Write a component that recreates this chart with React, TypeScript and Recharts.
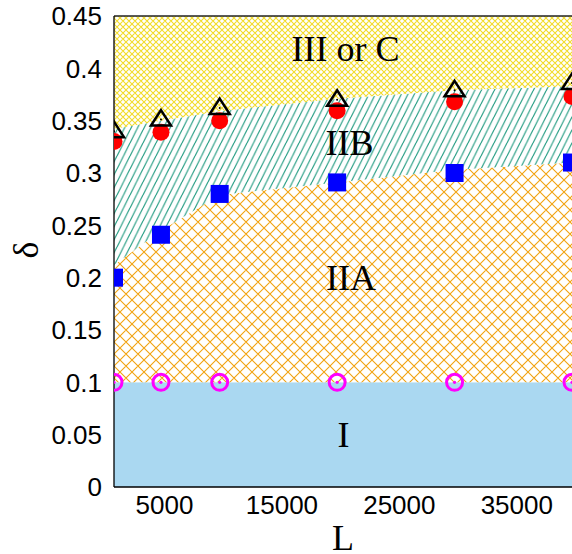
import React from 'react';
import { ComposedChart, Area, Scatter, XAxis, YAxis, ReferenceLine } from 'recharts';

// system sizes (L) where the points were computed
const L_VALUES = [1000, 5000, 10000, 20000, 30000, 40000];

// markers
const DELTA_OPEN = [0.1, 0.1, 0.1, 0.1, 0.1, 0.1];
const DELTA_SQUARE = [0.2, 0.241, 0.28, 0.291, 0.3, 0.31];
const DELTA_CIRCLE = [0.33, 0.339, 0.35, 0.3595, 0.368, 0.373];
const DELTA_TRIANGLE = [0.34, 0.351, 0.362, 0.37, 0.379, 0.386];

// region boundaries
const REGION_I_TOP = [0.1, 0.1, 0.1, 0.1, 0.1, 0.1];
const REGION_IIA_TOP = [0.212, 0.245, 0.279, 0.291, 0.303, 0.31];
const REGION_IIB_TOP = [0.342, 0.35, 0.359, 0.371, 0.379, 0.383];
const DELTA_MAX = 0.45;

const Y_TICKS = [0, 0.05, 0.1, 0.15, 0.2, 0.25, 0.3, 0.35, 0.4, 0.45];
const X_TICKS = [5000, 15000, 25000, 35000];

const regions = L_VALUES.map((L, i) => ({
  L,
  I: REGION_I_TOP[i],
  IIA: REGION_IIA_TOP[i] - REGION_I_TOP[i],
  IIB: REGION_IIB_TOP[i] - REGION_IIA_TOP[i],
  III: DELTA_MAX - REGION_IIB_TOP[i],
}));

const points = (vals: number[]) => L_VALUES.map((L, i) => ({ L, d: vals[i] }));

const sans = '"Liberation Sans", Arial, sans-serif';
const serif = '"Liberation Serif", "Times New Roman", serif';

const OpenCircle = (p: any) => (
  <g>
    <circle cx={p.cx} cy={p.cy} r={8} fill="none" stroke="#ff00ff" strokeWidth={3} />
    <circle cx={p.cx} cy={p.cy} r={1.6} fill="#ff00ff" />
  </g>
);

const Square = (p: any) => <rect x={p.cx - 9} y={p.cy - 9} width={18} height={18} fill="#0000ff" />;

const RedDot = (p: any) => <circle cx={p.cx} cy={p.cy} r={8.5} fill="#ff0000" />;

const Triangle = (p: any) => (
  <g>
    <path
      d={`M${p.cx},${p.cy - 9.5} L${p.cx + 10},${p.cy + 6} L${p.cx - 10},${p.cy + 6} Z`}
      fill="none"
      stroke="#000"
      strokeWidth={2.5}
      strokeLinejoin="miter"
    />
    <circle cx={p.cx} cy={p.cy} r={1} fill="#000" />
  </g>
);

const XTick = (p: any) => (
  <text x={p.x + 3.5} y={p.y} dy="0.71em" textAnchor="middle" fontFamily={sans} fontSize={26} fill="#000">
    {p.payload.value}
  </text>
);

const YTick = (p: any) => (
  <text x={p.x} y={p.y} dy="0.355em" textAnchor="end" fontFamily={sans} fontSize={26} fill="#000">
    {p.payload.value}
  </text>
);

export default function App() {
  return (
    <div style={{ position: 'fixed', left: 0, top: 0, width: 572, height: 554, overflow: 'hidden', background: '#fff' }}>
      <svg width={0} height={0} style={{ position: 'absolute' }}>
        <defs>
          <pattern id="hatchYellow" patternUnits="userSpaceOnUse" width={6} height={6}>
            <rect width={6} height={6} fill="#fff" />
            <path d="M-3,3 L3,9 M0,0 L6,6 M3,-3 L9,3 M-3,3 L3,-3 M0,6 L6,0 M3,9 L9,3" stroke="#f2dc2a" strokeWidth={1.1} />
          </pattern>
          <pattern id="hatchOrange" patternUnits="userSpaceOnUse" width={12} height={12}>
            <rect width={12} height={12} fill="#fff" />
            <path d="M-6,6 L6,18 M0,0 L12,12 M6,-6 L18,6 M-6,6 L6,-6 M0,12 L12,0 M6,18 L18,6" stroke="#f2a310" strokeWidth={1.1} />
          </pattern>
          <pattern id="hatchTeal" patternUnits="userSpaceOnUse" width={6.5} height={13}>
            <rect width={6.5} height={13} fill="#fff" />
            <path d="M0,13 L6.5,0 M-6.5,13 L0,0 M6.5,13 L13,0" stroke="#2a9f86" strokeWidth={1.2} />
          </pattern>
        </defs>
      </svg>

      <ComposedChart width={580} height={554} data={regions} margin={{ top: 16, right: 8, bottom: 0, left: 0 }}>
        <XAxis
          dataKey="L"
          type="number"
          domain={[1000, 40000]}
          ticks={X_TICKS}
          allowDataOverflow
          height={67}
          tickLine={false}
          tickSize={0}
          tickMargin={9}
          tick={<XTick />}
          axisLine={{ stroke: '#000', strokeWidth: 1.3 }}
          label={{ value: 'L', position: 'insideBottom', offset: 4, fill: '#000', fontFamily: serif, fontSize: 36 }}
        />
        <YAxis
          type="number"
          domain={[0, DELTA_MAX]}
          ticks={Y_TICKS}
          allowDataOverflow
          width={114}
          tickLine={false}
          tickSize={0}
          tickMargin={12}
          tick={<YTick />}
          axisLine={{ stroke: '#000', strokeWidth: 1.3 }}
        />
        <Area type="linear" dataKey="I" stackId="r" stroke="none" fill="#aad8f1" fillOpacity={1} isAnimationActive={false} />
        <Area type="linear" dataKey="IIA" stackId="r" stroke="none" fill="url(#hatchOrange)" fillOpacity={1} isAnimationActive={false} />
        <Area type="linear" dataKey="IIB" stackId="r" stroke="none" fill="url(#hatchTeal)" fillOpacity={1} isAnimationActive={false} />
        <Area type="linear" dataKey="III" stackId="r" stroke="none" fill="url(#hatchYellow)" fillOpacity={1} isAnimationActive={false} />
        <ReferenceLine y={DELTA_MAX} stroke="#222" strokeWidth={1.6} />
        <Scatter data={points(DELTA_SQUARE)} dataKey="d" shape={Square} isAnimationActive={false} />
        <Scatter data={points(DELTA_CIRCLE)} dataKey="d" shape={RedDot} isAnimationActive={false} />
        <Scatter data={points(DELTA_TRIANGLE)} dataKey="d" shape={Triangle} isAnimationActive={false} />
        <Scatter data={points(DELTA_OPEN)} dataKey="d" shape={OpenCircle} isAnimationActive={false} />
      </ComposedChart>

      <svg width={572} height={554} style={{ position: 'absolute', left: 0, top: 0, pointerEvents: 'none' }}>
        <g fontFamily={serif} fontSize={36} fill="#000" textAnchor="middle">
          <text x={345.5} y={60.7}>III or C</text>
          <text x={349.5} y={155}>IIB</text>
          <text x={351} y={290}>IIA</text>
          <text x={343.5} y={446.7}>I</text>
          <text x={38} y={250} transform="rotate(-90 38 250)">δ</text>
        </g>
      </svg>
    </div>
  );
}
